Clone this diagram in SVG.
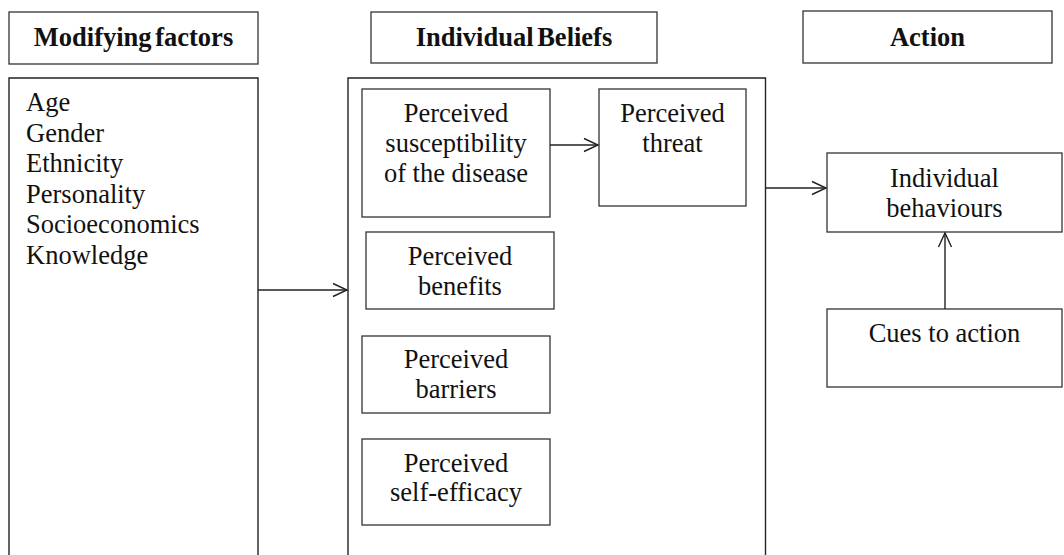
<svg xmlns="http://www.w3.org/2000/svg" width="1064" height="555" viewBox="0 0 1064 555">
<defs>
<style>
.box{fill:#fff;stroke:#333;stroke-width:1.3}
.t{font-family:"Liberation Serif","Times New Roman",serif;font-size:26.5px;fill:#111}
.c{text-anchor:middle}
.h{font-family:"Liberation Serif","Times New Roman",serif;font-size:26.5px;font-weight:bold;fill:#111;text-anchor:middle;word-spacing:-3px}
.ln{fill:none;stroke:#222;stroke-width:1.4}
</style>
<marker id="ah" markerWidth="18" markerHeight="16" refX="15" refY="8" orient="auto" markerUnits="userSpaceOnUse">
<path d="M1,1.5 L15,8 L1,14.5" fill="none" stroke="#222" stroke-width="1.4"/>
</marker>
</defs>
<rect width="1064" height="555" fill="#fff"/>
<g id="hdr-modifying"><rect class="box" x="9" y="12" width="249" height="52"/><text class="h" x="133.5" y="46">Modifying factors</text></g>
<g id="hdr-beliefs"><rect class="box" x="371" y="12" width="286" height="51"/><text class="h" x="514" y="46">Individual Beliefs</text></g>
<g id="hdr-action"><rect class="box" x="803" y="11" width="249" height="52"/><text class="h" x="927.5" y="46">Action</text></g>
<g id="modifying"><path class="ln" d="M9,560 V78 H258 V560"/>
<text class="t" x="26" y="111">Age</text>
<text class="t" x="26" y="141.5">Gender</text>
<text class="t" x="26" y="172">Ethnicity</text>
<text class="t" x="26" y="202.5">Personality</text>
<text class="t" x="26" y="233">Socioeconomics</text>
<text class="t" x="26" y="263.5">Knowledge</text></g>
<g id="beliefs"><path class="ln" d="M348,560 V78 H765.5 V560" stroke="#444"/></g>
<g id="susceptibility"><rect class="box" x="362" y="89" width="188" height="128"/><text class="t c" x="456" y="122">Perceived</text><text class="t c" x="456" y="152">susceptibility</text><text class="t c" x="456" y="182">of the disease</text></g>
<g id="threat"><rect class="box" x="599" y="89" width="147" height="117"/><text class="t c" x="672.5" y="122">Perceived</text><text class="t c" x="672.5" y="152">threat</text></g>
<g id="benefits"><rect class="box" x="366" y="232" width="188" height="77"/><text class="t c" x="460" y="265">Perceived</text><text class="t c" x="460" y="295">benefits</text></g>
<g id="barriers"><rect class="box" x="362" y="336" width="188" height="77"/><text class="t c" x="456" y="368">Perceived</text><text class="t c" x="456" y="398">barriers</text></g>
<g id="selfefficacy"><rect class="box" x="362" y="439" width="188" height="86"/><text class="t c" x="456" y="472">Perceived</text><text class="t c" x="456" y="501">self-efficacy</text></g>
<g id="behaviours"><rect class="box" x="827" y="153" width="235" height="79"/><text class="t c" x="944.5" y="187">Individual</text><text class="t c" x="944.5" y="217">behaviours</text></g>
<g id="cues"><rect class="box" x="827" y="309" width="235" height="78"/><text class="t c" x="944.5" y="342">Cues to action</text></g>
<g id="connectors">
<line class="ln" x1="258" y1="290" x2="347" y2="290" marker-end="url(#ah)"/>
<line class="ln" x1="550" y1="145" x2="598" y2="145" marker-end="url(#ah)"/>
<line class="ln" x1="766" y1="188" x2="826" y2="188" marker-end="url(#ah)"/>
<line class="ln" x1="945" y1="309" x2="945" y2="233" marker-end="url(#ah)"/>
</g>
</svg>
